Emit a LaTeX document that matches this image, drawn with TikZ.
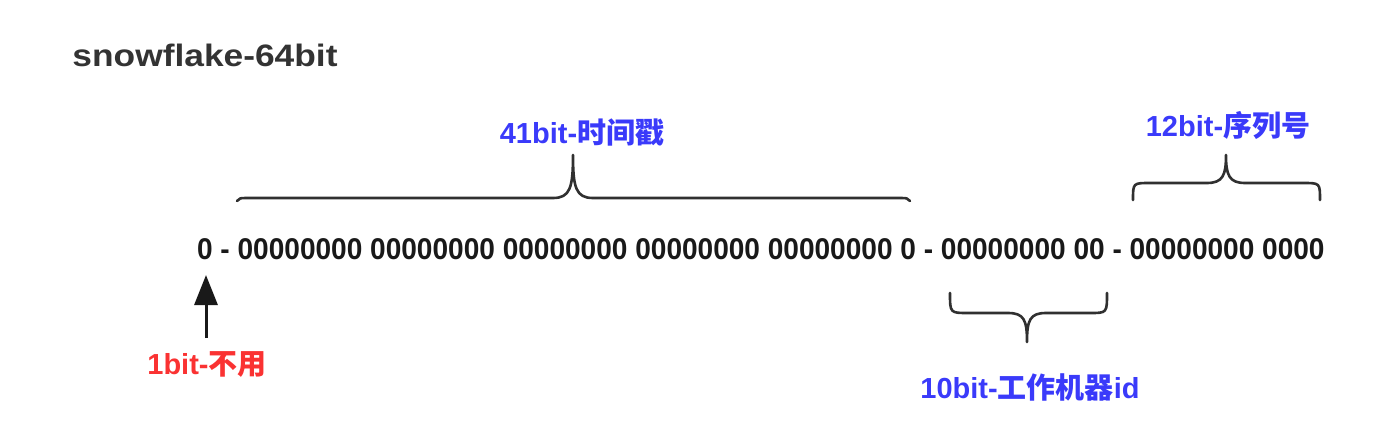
\documentclass[tikz,border=0pt]{standalone}
\usepackage{fontspec}
\setmainfont{Liberation Sans}
\newfontfamily\cjk{Noto Sans CJK SC}
\usetikzlibrary{arrows.meta}
\definecolor{lblblue}{RGB}{58,58,250}
\definecolor{lblred}{RGB}{250,50,50}
\definecolor{titlegray}{RGB}{51,51,51}
\definecolor{ink}{RGB}{25,25,25}
\tikzset{
  txt/.style={inner sep=0pt, outer sep=0pt},
  bluelbl/.style={txt, text=lblblue, font=\fontsize{29}{34}\selectfont\bfseries},
  redlbl/.style={txt, text=lblred, font=\fontsize{29}{34}\selectfont\bfseries},
  bracepath/.style={draw=ink!90, line width=2.6pt, line cap=round, line join=round},
  arrowline/.style={draw=ink, line width=3pt, -{Triangle[length=30pt,width=23pt]}}
}
\begin{document}
\begin{tikzpicture}[x=1pt,y=-1pt]
\useasboundingbox (0,0) rectangle (1393,433);
% title
\node[txt, text=titlegray, font=\fontsize{31}{36}\selectfont\bfseries, xscale=1.14] (title) at (205,55) {snowflake-64bit};
% bit row
\node[txt, text=ink, font=\fontsize{30}{36}\selectfont\bfseries, xscale=0.935] (bits) at (761,249)
  {0 - 00000000 00000000 00000000 00000000 00000000 0 - 00000000 00 - 00000000 0000};
% labels
\node[bluelbl] (ts) at (582,132) {41bit-{\cjk\bfseries 时间戳}};
\node[bluelbl] (seq) at (1228,125) {12bit-{\cjk\bfseries 序列号}};
\node[bluelbl] (wid) at (1030,387) {10bit-{\cjk\bfseries 工作机器}id};
\node[redlbl] (unused) at (207,365) {1bit-{\cjk\bfseries 不用}};
% braces
\path[bracepath] (237,201) .. controls (239,198) .. (252,198) -- (553,198)
  .. controls (570,198) and (573,188) .. (573,155)
  .. controls (573,188) and (576,198) .. (593,198) -- (895,198)
  .. controls (908,198) .. (910,201);
\path[bracepath] (1133,200) .. controls (1133,183) .. (1150,183) -- (1207,183)
  .. controls (1223,183) and (1226,175) .. (1226,155)
  .. controls (1226,175) and (1229,183) .. (1245,183) -- (1303,183)
  .. controls (1320,183) .. (1320,200);
\path[bracepath] (950,293) .. controls (950,313) .. (968,313) -- (1008,313)
  .. controls (1024,313) and (1027,320) .. (1027,342)
  .. controls (1027,320) and (1030,313) .. (1046,313) -- (1090,313)
  .. controls (1107,313) .. (1107,293);
% arrow
\coordinate (atail) at (206,338);
\coordinate (ahead) at (206,275);
\draw[arrowline] (atail) -- (ahead);
\end{tikzpicture}
\end{document}
